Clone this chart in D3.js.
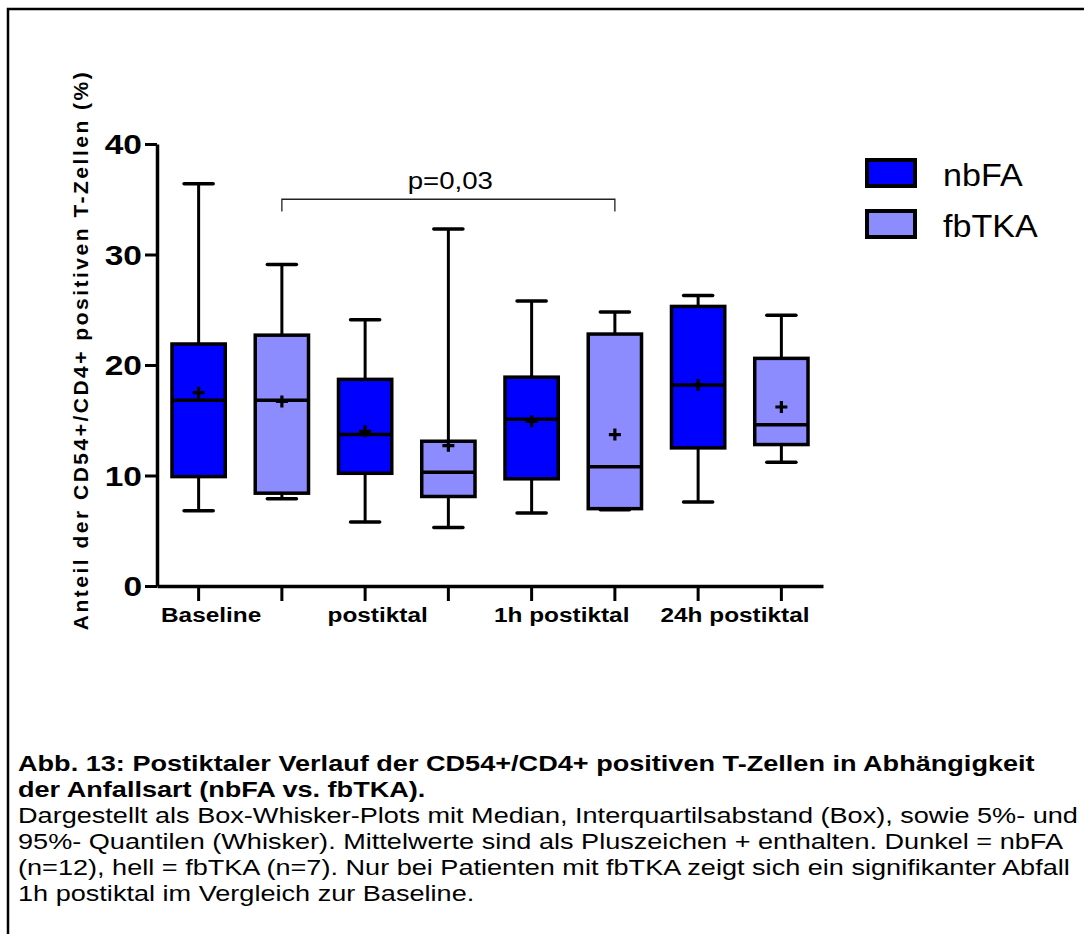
<!DOCTYPE html>
<html>
<head>
<meta charset="utf-8">
<script src="https://cdn.jsdelivr.net/npm/d3@7"></script>
<style>
  html, body { margin: 0; background: #fff; overflow: hidden; }
  svg { display: block; font-family: "Liberation Sans", Arial, sans-serif; }
</style>
</head>
<body>
<svg id="chart" width="1084" height="934"></svg>
<script>
// timepoints and groups
const groups = ['Baseline', 'postiktal', '1h postiktal', '24h postiktal']
const series = ['nbFA', 'fbTKA']
const seriesColors = ['#0000ff', '#8c8cff']

// box-whisker values (%)
const nbfaLow  = [6.8, 5.8, 6.6, 7.6]
const nbfaQ1   = [9.9, 10.2, 9.7, 12.5]
const nbfaMed  = [16.8, 13.7, 15.1, 18.2]
const nbfaQ3   = [21.9, 18.7, 18.9, 25.3]
const nbfaHigh = [36.4, 24.1, 25.8, 26.3]
const nbfaMean = [17.5, 14.0, 14.9, 18.2]

const fbtkaLow  = [7.9, 5.3, 6.9, 11.2]
const fbtkaQ1   = [8.4, 8.1, 7.0, 12.8]
const fbtkaMed  = [16.8, 10.3, 10.8, 14.6]
const fbtkaQ3   = [22.7, 13.1, 22.8, 20.6]
const fbtkaHigh = [29.1, 32.3, 24.8, 24.5]
const fbtkaMean = [16.7, 12.7, 13.7, 16.2]

const yTicks = [0, 10, 20, 30, 40]
const yTitle = 'Anteil der CD54+/CD4+ positiven T-Zellen (%)'
const sigLabel = 'p=0,03'
const sigFrom = ['Baseline', 'fbTKA']
const sigTo = ['1h postiktal', 'fbTKA']
const sigLevel = 35.0

const captionBold = [
    'Abb. 13: Postiktaler Verlauf der CD54+/CD4+ positiven T-Zellen in Abhängigkeit',
    'der Anfallsart (nbFA vs. fbTKA).'
]
const captionText = [
    'Dargestellt als Box-Whisker-Plots mit Median, Interquartilsabstand (Box), sowie 5%- und',
    '95%- Quantilen (Whisker). Mittelwerte sind als Pluszeichen + enthalten. Dunkel = nbFA',
    '(n=12), hell = fbTKA (n=7). Nur bei Patienten mit fbTKA zeigt sich ein signifikanter Abfall',
    '1h postiktal im Vergleich zur Baseline.'
]

// build rows
const stats = [
    [nbfaLow, nbfaQ1, nbfaMed, nbfaQ3, nbfaHigh, nbfaMean],
    [fbtkaLow, fbtkaQ1, fbtkaMed, fbtkaQ3, fbtkaHigh, fbtkaMean]
]
const rows = []
groups.forEach((g, gi) => {
    series.forEach((s, si) => {
        const [lo, q1, med, q3, hi, mean] = stats[si]
        rows.push({ key: g + '|' + s, group: g, series: s, si,
            lo: lo[gi], q1: q1[gi], med: med[gi], q3: q3[gi], hi: hi[gi], mean: mean[gi] })
    })
})

// the figure is horizontally stretched, so text gets widened too
const stretch = (sel, k) => sel.each(function () {
    const w = this.getComputedTextLength()
    d3.select(this).attr('textLength', w * k).attr('lengthAdjust', 'spacingAndGlyphs')
})

const svg = d3.select('#chart')

// outer frame (only top and left edges are in view)
svg.append('path')
    .attr('d', 'M8,1000V9H1100')
    .attr('fill', 'none').attr('stroke', '#000').attr('stroke-width', 2.5)

const x = d3.scaleBand()
    .domain(rows.map((d) => d.key))
    .range([157, 823])
    .paddingInner(0).paddingOuter(0)

const y = d3.scaleLinear()
    .domain([0, 40])
    .range([586, 144])

const bw = x.bandwidth()
const cx = (key) => x(key) + bw / 2

// boxes
const box = svg.append('g').selectAll('g')
    .data(rows)
    .enter()
    .append('g')
    .attr('stroke', '#000')

box.append('line')
    .attr('x1', (d) => cx(d.key)).attr('x2', (d) => cx(d.key))
    .attr('y1', (d) => y(d.lo)).attr('y2', (d) => y(d.hi))
    .attr('stroke-width', 3)

box.append('line')
    .attr('x1', (d) => cx(d.key) - bw * 0.175).attr('x2', (d) => cx(d.key) + bw * 0.175)
    .attr('y1', (d) => y(d.hi)).attr('y2', (d) => y(d.hi))
    .attr('stroke-width', 3.5).attr('stroke-linecap', 'round')

box.append('line')
    .attr('x1', (d) => cx(d.key) - bw * 0.175).attr('x2', (d) => cx(d.key) + bw * 0.175)
    .attr('y1', (d) => y(d.lo)).attr('y2', (d) => y(d.lo))
    .attr('stroke-width', 3.5).attr('stroke-linecap', 'round')

box.append('rect')
    .attr('x', (d) => cx(d.key) - bw * 0.32)
    .attr('width', bw * 0.64)
    .attr('y', (d) => y(d.q3))
    .attr('height', (d) => y(d.q1) - y(d.q3))
    .attr('fill', (d) => seriesColors[d.si])
    .attr('stroke-width', 3.5)

box.append('line')
    .attr('x1', (d) => cx(d.key) - bw * 0.32).attr('x2', (d) => cx(d.key) + bw * 0.32)
    .attr('y1', (d) => y(d.med)).attr('y2', (d) => y(d.med))
    .attr('stroke-width', 3.5)

// mean plus signs
box.append('path')
    .attr('d', (d) => `M${cx(d.key) - 6},${y(d.mean)}h12M${cx(d.key)},${y(d.mean) - 6}v12`)
    .attr('stroke-width', 3.2)

// axes
const yAxis = svg.append('g')
    .attr('transform', 'translate(157,0)')
    .call(d3.axisLeft(y).tickValues(yTicks).tickSize(12).tickPadding(3).tickSizeOuter(0))
yAxis.select('.domain').attr('stroke-width', 3.5)
yAxis.selectAll('.tick line').attr('stroke-width', 3)
yAxis.selectAll('.tick text')
    .attr('font-size', 27).attr('font-weight', 'bold').attr('fill', '#000')
    .attr('font-family', '"Liberation Sans", Arial, sans-serif')
    .attr('dy', '0.36em')
    .call(stretch, 1.24)

const xAxis = svg.append('g')
    .attr('transform', 'translate(0,586)')
    .call(d3.axisBottom(x).tickSize(15).tickFormat('').tickSizeOuter(0))
xAxis.select('.domain').attr('stroke-width', 3.5)
xAxis.selectAll('.tick line').attr('stroke-width', 3)

// group labels sit at the start of each pair
svg.append('g').selectAll('text')
    .data(groups)
    .enter()
    .append('text')
    .attr('x', (d) => x(d + '|nbFA') + 4)
    .attr('y', 622)
    .attr('font-size', 19.5).attr('font-weight', 'bold')
    .text((d) => d)
    .call(stretch, 1.25)

// y title
svg.append('text')
    .attr('transform', `translate(88,${(y(0) + y(40)) / 2 - 15}) rotate(-90)`)
    .attr('text-anchor', 'middle')
    .attr('font-size', 21).attr('font-weight', 'bold')
    .attr('letter-spacing', 2.5)
    .text(yTitle)

// significance bracket
const sx1 = cx(sigFrom.join('|'))
const sx2 = cx(sigTo.join('|'))
svg.append('path')
    .attr('d', `M${sx1},${y(sigLevel - 1.1)}V${y(sigLevel)}H${sx2}V${y(sigLevel - 1.1)}`)
    .attr('fill', 'none').attr('stroke', '#222').attr('stroke-width', 1.3)
svg.append('text')
    .attr('x', (sx1 + sx2) / 2 + 2)
    .attr('y', y(sigLevel) - 10)
    .attr('text-anchor', 'middle')
    .attr('font-size', 23)
    .text(sigLabel)
    .call(stretch, 1.2)

// legend
const legend = svg.append('g').attr('transform', 'translate(867,160)')
const legendItem = legend.selectAll('g')
    .data(series)
    .enter()
    .append('g')
    .attr('transform', (d, i) => `translate(0,${i * 51})`)
legendItem.append('rect')
    .attr('width', 48).attr('height', 26)
    .attr('fill', (d, i) => seriesColors[i])
    .attr('stroke', '#000').attr('stroke-width', 4)
legendItem.append('text')
    .attr('x', 76).attr('y', 26)
    .attr('font-size', 31)
    .text((d) => d)
    .call(stretch, 1.1)

// caption
const caption = svg.append('g').attr('transform', 'translate(18,0)')
captionBold.concat(captionText).forEach((line, i) => {
    caption.append('text')
        .attr('x', 0).attr('y', 771 + i * 26)
        .attr('font-size', 21.5)
        .attr('font-weight', i < captionBold.length ? 'bold' : 'normal')
        .text(line)
        .call(stretch, 1.26)
})
</script>
</body>
</html>
